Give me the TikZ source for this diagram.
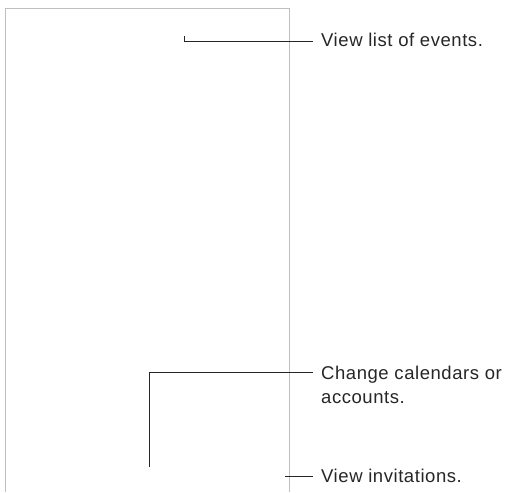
\documentclass[tikz,border=0pt]{standalone}
\usepackage{fontspec}
\setmainfont{Liberation Sans}[LetterSpace=3]
\begin{document}
\begin{tikzpicture}[x=1pt,y=-1pt,
  frame/.style={draw=black!25,line width=1.2pt},
  callout/.style={draw=black!85,line width=1pt},
  label/.style={anchor=base west,inner sep=0pt,align=left,font=\fontsize{18.5}{24}\selectfont,text=black!85}]
\useasboundingbox (0,0) rectangle (508,492);
\draw[frame] (5.5,492) -- (5.5,8.5) -- (289.5,8.5) -- (289.5,492);
\coordinate (e1) at (184,36.5);
\coordinate (e2) at (149,467);
\coordinate (e3) at (285,476);
\coordinate (j1) at (313,41.5);
\coordinate (j2) at (312.5,372.7);
\coordinate (j3) at (312.5,476);
\node[label] (t1) at (321,47) {View list of events.};
\node[label] (t2) at (321,403.5) {Change calendars or\\accounts.};
\node[label] (t3) at (321,482.5) {View invitations.};
\draw[callout] (e1) |- (j1);
\draw[callout] (e2) |- (j2);
\draw[callout] (e3) -- (j3);
\end{tikzpicture}
\end{document}
